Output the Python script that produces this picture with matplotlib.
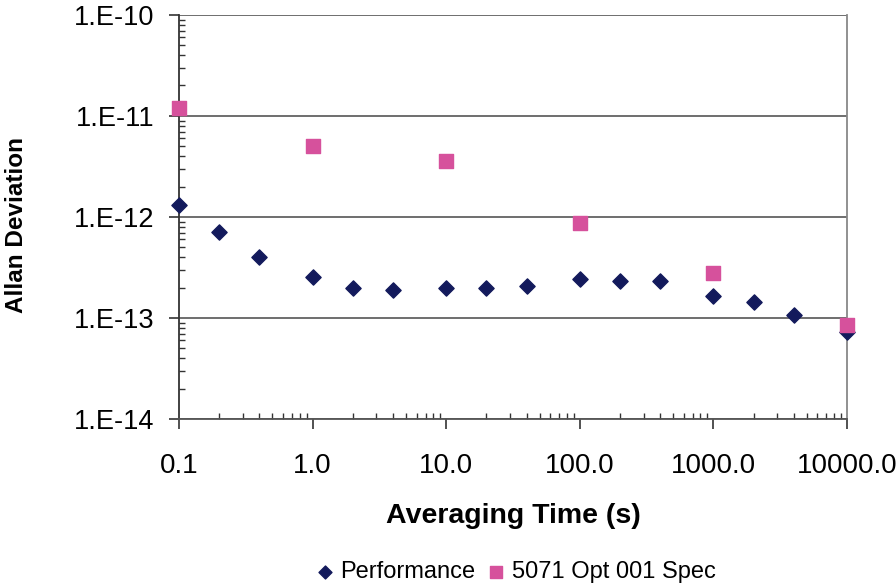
import matplotlib.pyplot as plt
from matplotlib.ticker import FixedLocator, FixedFormatter, LogLocator, NullFormatter

plt.rcParams['font.family'] = ['Liberation Sans', 'DejaVu Sans']

# Performance data
perf_tau = [0.1, 0.2, 0.4, 1, 2, 4, 10, 20, 40, 100, 200, 400, 1000, 2000, 4000, 10000]
perf_adev = [1.31e-12, 7.1e-13, 4.0e-13, 2.55e-13, 1.98e-13, 1.9e-13, 1.98e-13, 1.98e-13,
             2.05e-13, 2.43e-13, 2.33e-13, 2.33e-13, 1.65e-13, 1.45e-13, 1.07e-13, 7.3e-14]

# 5071 Opt 001 spec
spec_tau = [0.1, 1, 10, 100, 1000, 10000]
spec_adev = [1.2e-11, 5.0e-12, 3.6e-12, 8.7e-13, 2.8e-13, 8.5e-14]

x_ticks = [0.1, 1, 10, 100, 1000, 10000]
x_labels = ["0.1", "1.0", "10.0", "100.0", "1000.0", "10000.0"]
y_ticks = [1e-14, 1e-13, 1e-12, 1e-11, 1e-10]
y_labels = ["1.E-14", "1.E-13", "1.E-12", "1.E-11", "1.E-10"]

fig = plt.figure(figsize=(8.96, 5.86), dpi=100)
ax = fig.add_axes([0.1998, 0.285, 0.7455, 0.6896])

ax.set_xscale("log")
ax.set_yscale("log")
ax.set_xlim(0.1, 10000)
ax.set_ylim(1e-14, 1e-10)

for y in y_ticks:
    ax.axhline(y, color="#555555", linewidth=1.2, zorder=1)

ax.scatter(perf_tau, perf_adev, marker="D", s=60, color="#131a5c", label="Performance",
           zorder=3, clip_on=False)
ax.scatter(spec_tau, spec_adev, marker="s", s=100, color="#d6519c", label="5071 Opt 001 Spec",
           zorder=4, clip_on=False)

ax.xaxis.set_major_locator(FixedLocator(x_ticks))
ax.xaxis.set_major_formatter(FixedFormatter(x_labels))
ax.xaxis.set_minor_locator(LogLocator(base=10, subs=range(2, 10)))
ax.xaxis.set_minor_formatter(NullFormatter())
ax.yaxis.set_major_locator(FixedLocator(y_ticks))
ax.yaxis.set_major_formatter(FixedFormatter(y_labels))
ax.yaxis.set_minor_locator(LogLocator(base=10, subs=range(2, 10)))
ax.yaxis.set_minor_formatter(NullFormatter())

ax.tick_params(axis="both", which="major", direction="out", length=7.5, width=1.2,
               labelsize=19.5, color="#333333")
ax.tick_params(axis="x", which="major", labelsize=20, pad=17)
ax.tick_params(axis="y", which="major", pad=10)
ax.tick_params(axis="both", which="minor", direction="in", length=4.5, width=1,
               color="#333333")

ax.spines["top"].set_visible(False)
ax.spines["left"].set_color("#333333")
ax.spines["bottom"].set_color("#555555")
ax.spines["right"].set_color("#888888")
for s in ["left", "bottom", "right"]:
    ax.spines[s].set_linewidth(1.3)

fig.text(0.573, 1 - 516 / 586, "Averaging Time (s)", fontsize=20.5, fontweight="bold",
         ha="center", va="center")
fig.text(17 / 896, 1 - 225 / 586, "Allan Deviation", fontsize=17.5, fontweight="bold",
         ha="center", va="center", rotation=90)

fig.legend(loc="center", bbox_to_anchor=(516 / 896, 1 - 572 / 586), ncol=2, frameon=False,
           fontsize=17, handlelength=0.7, handletextpad=0.3, columnspacing=0.55,
           markerscale=0.85, borderaxespad=0)

fig.savefig("out.png", dpi=100)
